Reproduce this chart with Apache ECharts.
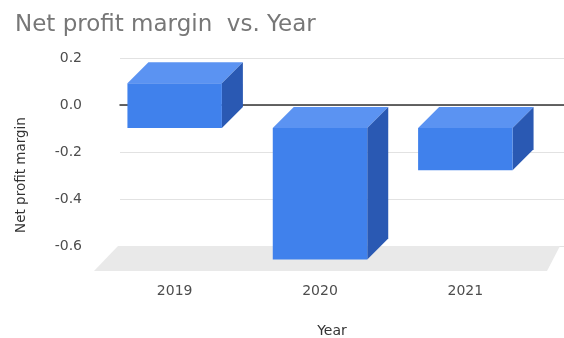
<!DOCTYPE html>
<html>
<head>
<meta charset="utf-8">
<script src="https://cdn.jsdelivr.net/npm/echarts@6/dist/echarts.min.js"></script>
<style>
  html, body { margin: 0; padding: 0; background: #fff; }
  #chart { width: 564px; height: 338px; }
</style>
</head>
<body>
<div id="chart"></div>
<script>
// Net profit margin by year, drawn as pseudo-3D columns
const years = ['2019', '2020', '2021'];
const margins = [0.19, -0.56, -0.18];
const yMin = -0.6;
const yMax = 0.2;
const yStep = 0.2;

const FONT = 'DejaVu Sans';
const DEPTH = 21;          // column depth offset (px, up-right)
const FLOOR_DEPTH = 24;    // floor depth offset (px)

const chart = echarts.init(document.getElementById('chart'), null, { renderer: 'canvas' });

// Front face, lit top and shaded side of one column
function renderColumn(params, api) {
  const idx = api.value(0);
  const val = api.value(1);
  const base = api.coord([idx, 0]);
  const tip = api.coord([idx, val]);
  const bw = api.size([1, 0])[0] * 0.65;
  const x0 = base[0] - bw / 2;
  const x1 = base[0] + bw / 2;
  const y0 = Math.min(base[1], tip[1]);
  const y1 = Math.max(base[1], tip[1]);
  const d = DEPTH;
  return {
    type: 'group',
    children: [
      {
        type: 'polygon',
        shape: { points: [[x0, y0], [x0 + d, y0 - d], [x1 + d, y0 - d], [x1, y0]] },
        style: { fill: '#5b93f2' }
      },
      {
        type: 'polygon',
        shape: { points: [[x1, y0], [x1 + d, y0 - d], [x1 + d, y1 - d], [x1, y1]] },
        style: { fill: '#2a59b3' }
      },
      {
        type: 'rect',
        shape: { x: x0, y: y0, width: bw, height: y1 - y0 },
        style: { fill: '#4081ec' }
      }
    ]
  };
}

// Grey floor under the back wall
function renderFloor(params, api) {
  const cs = params.coordSys;
  const yb = api.coord([0, yMin])[1];
  const xl = cs.x - 2;
  const xr = cs.x + cs.width - 4;
  return {
    type: 'polygon',
    shape: {
      points: [
        [xl, yb], [xr, yb],
        [xr - 13, yb + FLOOR_DEPTH + 1], [xl - FLOOR_DEPTH, yb + FLOOR_DEPTH + 1]
      ]
    },
    style: { fill: '#e9e9e9' },
    silent: true
  };
}

const option = {
  animation: false,
  backgroundColor: '#ffffff',
  title: {
    text: 'Net profit margin  vs. Year',
    left: 10,
    top: 9,
    textStyle: { fontFamily: FONT, fontSize: 23, fontWeight: 'normal', color: '#777777' }
  },
  grid: [
    // back wall: gridlines, tick labels, zero line
    { left: 120, right: 0, top: 58, bottom: 92, outerBoundsMode: 'none', containLabel: false },
    // front plane: columns and category labels
    { left: 102, right: 26, top: 81, bottom: 69, outerBoundsMode: 'none', containLabel: false }
  ],
  xAxis: [
    {
      gridIndex: 0, type: 'value', min: 0, max: 1,
      axisLabel: { show: false }, axisTick: { show: false }, splitLine: { show: false },
      axisLine: { show: true, onZero: true, lineStyle: { color: '#333333', width: 1.5 } }
    },
    {
      gridIndex: 1, type: 'category', data: years,
      axisLine: { show: false }, axisTick: { show: false },
      axisLabel: { margin: 15, fontFamily: FONT, fontSize: 14, color: '#4d4d4d' },
      name: 'Year', nameLocation: 'middle', nameGap: 55,
      nameTextStyle: { fontFamily: FONT, fontSize: 14, color: '#333333', padding: [0, 0, 0, 24] }
    }
  ],
  yAxis: [
    {
      gridIndex: 0, type: 'value', min: yMin, max: yMax, interval: yStep,
      axisLine: { show: false }, axisTick: { show: false },
      axisLabel: {
        margin: 38, fontFamily: FONT, fontSize: 14, color: '#4d4d4d',
        formatter: v => v.toFixed(1)
      },
      splitLine: { lineStyle: { color: '#e2e2e2', width: 1 } }
    },
    {
      gridIndex: 1, type: 'value', min: yMin, max: yMax, interval: yStep,
      axisLine: { show: false }, axisTick: { show: false },
      axisLabel: { show: false }, splitLine: { show: false },
      name: 'Net profit margin', nameLocation: 'middle', nameGap: 74,
      nameTextStyle: { fontFamily: FONT, fontSize: 13.5, color: '#333333' }
    }
  ],
  series: [
    {
      type: 'custom',
      name: 'floor',
      xAxisIndex: 0, yAxisIndex: 0,
      z: 0,
      renderItem: renderFloor,
      data: [[0, yMin]],
      silent: true
    },
    {
      type: 'custom',
      name: 'Net profit margin',
      xAxisIndex: 1, yAxisIndex: 1,
      z: 5,
      renderItem: renderColumn,
      encode: { x: 0, y: 1 },
      data: margins.map((v, i) => [i, v])
    }
  ]
};

chart.setOption(option);
</script>
</body>
</html>
